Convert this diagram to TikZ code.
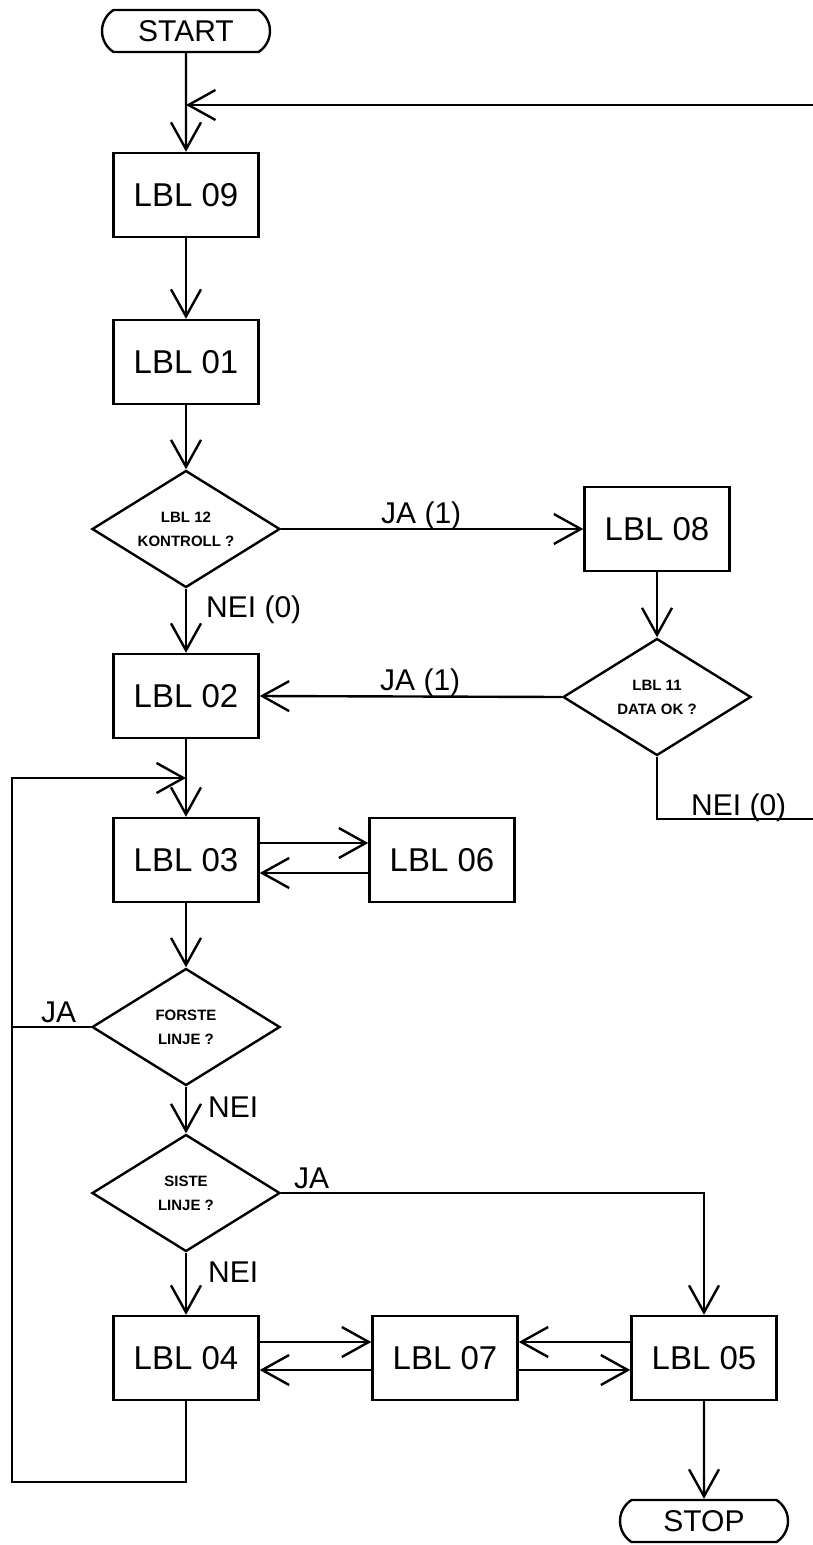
\documentclass[tikz,border=0pt]{standalone}
\usepackage{fontspec}
\setmainfont{Liberation Sans}
\usetikzlibrary{arrows.meta,shapes.geometric,shapes.misc}
\begin{document}
\begin{tikzpicture}[x=1pt,y=-1pt, line width=2.4pt,
  box/.style={draw, rectangle, minimum width=145pt, minimum height=84pt, inner sep=0pt, font=\fontsize{33}{33}\selectfont},
  dec/.style={draw, diamond, aspect=1.6, minimum width=188pt, minimum height=117pt, inner sep=0pt, font=\fontsize{15}{24}\selectfont\bfseries, align=center},
  term/.style={draw, rounded rectangle, rounded rectangle arc length=115, minimum width=168pt, minimum height=42pt, inner sep=0pt, font=\fontsize{30}{30}\selectfont},
  lab/.style={font=\fontsize{30}{30}\selectfont, inner sep=0pt},
  arr/.style={-{Straight Barb[length=27pt,width=30pt]}}]
\useasboundingbox (0,0) rectangle (813,1545);

% nodes
\node[term] (start) at (186,31) {START};
\node[box] (l09) at (186,195) {LBL 09};
\node[box] (l01) at (186,362) {LBL 01};
\node[dec] (d12) at (186,529) {LBL 12\\KONTROLL ?};
\node[box] (l08) at (657,529) {LBL 08};
\node[box] (l02) at (186,696) {LBL 02};
\node[dec] (d11) at (657,697) {LBL 11\\DATA OK ?};
\node[box] (l03) at (186,860) {LBL 03};
\node[box] (l06) at (442,860) {LBL 06};
\node[dec] (d1) at (186,1027) {FORSTE\\LINJE ?};
\node[dec] (d2) at (186,1193) {SISTE\\LINJE ?};
\node[box] (l04) at (186,1358) {LBL 04};
\node[box] (l07) at (445,1358) {LBL 07};
\node[box] (l05) at (704,1358) {LBL 05};
\node[term] (stop) at (704,1521) {STOP};

% labels
\node[lab, anchor=base west] (ja1) at (380,523) {JA (1)};
\node[lab, anchor=base west] (nei1) at (205,617) {NEI (0)};
\node[lab, anchor=base west] (ja2) at (379,690) {JA (1)};
\node[lab, anchor=base west] (nei2) at (690,815) {NEI (0)};
\node[lab, anchor=base west] (ja3) at (40,1022) {JA};
\node[lab, anchor=base west] (nei3) at (207,1117) {NEI};
\node[lab, anchor=base west] (ja4) at (293,1188) {JA};
\node[lab, anchor=base west] (nei4) at (207,1282) {NEI};

% coordinates
\coordinate (j1) at (186,105);
\coordinate (rt) at (816,105);
\coordinate (rb) at (816,819);
\coordinate (nb) at (657,819);
\coordinate (j2) at (186,778);
\coordinate (lb) at (186,1482);
\coordinate (lbl) at (12,1482);
\coordinate (ltl) at (12,778);
\coordinate (a1) at ([yshift=17pt]l03.east);
\coordinate (a2) at ([yshift=-13pt]l06.west);
\coordinate (b1) at ([yshift=16pt]l04.east);
\coordinate (b2) at ([yshift=-12pt]l07.west);
\coordinate (c1) at ([yshift=16pt]l05.west);
\coordinate (c2) at ([yshift=-12pt]l07.east);

% connectors
\draw[arr] (start) -- (l09);
\draw[arr] (d11.south) -- (nb) -- (rb) -- (rt) -- (j1);
\draw[arr] (l09) -- (l01);
\draw[arr] (l01) -- (d12);
\draw[arr] (d12.east) -- (l08.west);
\draw[arr] (d12.south) -- (l02.north);
\draw[arr] (l08) -- (d11);
\draw[arr] (d11.west) -- (l02.east);
\draw[arr] (l02) -- (l03);
\draw[arr] (l04.south) -- (lb) -- (lbl) -- (ltl) -- (j2);
\draw[arr] (a1) -- (a1 -| l06.west);
\draw[arr] (a2) -- (a2 -| l03.east);
\draw[arr] (l03) -- (d1);
\draw (d1.west) -- (d1.west -| ltl);
\draw[arr] (d1.south) -- (d2.north);
\draw[arr] (d2.east) -- (d2.east -| l05.north) -- (l05.north);
\draw[arr] (d2.south) -- (l04.north);
\draw[arr] (b1) -- (b1 -| l07.west);
\draw[arr] (b2) -- (b2 -| l04.east);
\draw[arr] (c1) -- (c1 -| l07.east);
\draw[arr] (c2) -- (c2 -| l05.west);
\draw[arr] (l05) -- (stop);
\end{tikzpicture}
\end{document}
